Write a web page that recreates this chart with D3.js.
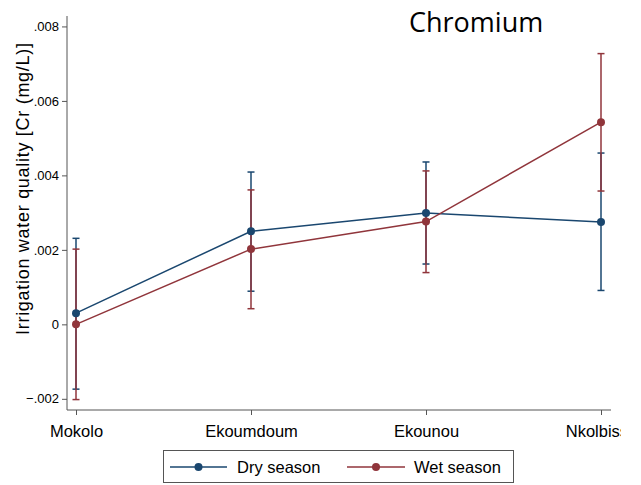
<!DOCTYPE html>
<html><head><meta charset="utf-8">
<script src="https://cdn.jsdelivr.net/npm/d3@7"></script>
<style>body{margin:0;background:#fff}svg{display:block}</style>
</head><body>
<script>
const categories = ["Mokolo", "Ekoumdoum", "Ekounou", "Nkolbisso"];
const dryMean  = [0.00030, 0.00250, 0.00299, 0.00275];
const dryLow   = [-0.00174, 0.00089, 0.00162, 0.00091];
const dryHigh  = [0.00231, 0.00409, 0.00436, 0.00460];
const wetMean  = [0.00000, 0.00202, 0.00276, 0.00543];
const wetLow   = [-0.00202, 0.00042, 0.00139, 0.00358];
const wetHigh  = [0.00202, 0.00361, 0.00412, 0.00727];
const yTicks   = [-0.002, 0, 0.002, 0.004, 0.006, 0.008];
const seriesNames = ["Dry season", "Wet season"];

const W = 641, H = 485;
const svg = d3.select("body").append("svg").attr("width", W).attr("height", H);
svg.append("rect").attr("width", W).attr("height", H).attr("fill", "#fff");
svg.append("defs").append("clipPath").attr("id","cp").append("rect").attr("x",0).attr("y",0).attr("width",621).attr("height",H);
const clipG = svg.append("g").attr("clip-path","url(#cp)");

const x = d3.scalePoint().domain(categories).range([76, 601]);
const y = d3.scaleLinear().domain([-0.0023, 0.00828]).range([410, 16]);
const axisCol = "#555";
const fmt = v => v === 0 ? "0" : d3.format(".3f")(v).replace("0.", ".");

// y axis
const ya = clipG.append("g").attr("transform", "translate(67,0)")
  .call(d3.axisLeft(y).tickValues(yTicks).tickSize(5).tickPadding(3).tickFormat(fmt).tickSizeOuter(0));
ya.select(".domain").attr("stroke", axisCol).attr("d", "M0,16V410");
ya.selectAll(".tick line").attr("stroke", axisCol);
ya.selectAll("text").attr("font-family", "Liberation Sans, Arial, sans-serif").attr("font-size", 13).attr("fill", "#000");

// x axis
const xa = clipG.append("g").attr("transform", "translate(0,410)")
  .call(d3.axisBottom(x).tickSize(5).tickPadding(10).tickSizeOuter(0));
xa.select(".domain").attr("stroke", axisCol).attr("d", "M67,0H611");
xa.selectAll(".tick line").attr("stroke", axisCol);
xa.selectAll("text").attr("font-family", "Liberation Sans, Arial, sans-serif").attr("font-size", 16.5).attr("fill", "#000");

// y title
clipG.append("text").attr("transform", "translate(28.5,189) rotate(-90)")
  .attr("text-anchor", "middle").attr("font-family", "Liberation Sans, Arial, sans-serif")
  .attr("font-size", 18).attr("textLength", 292).attr("lengthAdjust", "spacing")
  .text("Irrigation water quality [Cr (mg/L)]");

// title
clipG.append("text").attr("x", 409).attr("y", 32).attr("font-family", "Open Sans, sans-serif")
  .attr("font-size", 27).text("Chromium");

const series = [
  {name: seriesNames[0], mean: dryMean, lo: dryLow, hi: dryHigh, color: "#1a476f"},
  {name: seriesNames[1], mean: wetMean, lo: wetLow, hi: wetHigh, color: "#90353b"}
];
const line = d3.line().x((d, i) => x(categories[i])).y(d => y(d));
const cap = 3.5;
series.forEach(s => {
  const g = clipG.append("g");
  categories.forEach((c, i) => {
    const cx = x(c);
    g.append("line").attr("x1", cx).attr("x2", cx).attr("y1", y(s.lo[i])).attr("y2", y(s.hi[i]))
      .attr("stroke", s.color).attr("stroke-width", 1.5);
    [s.lo[i], s.hi[i]].forEach(v => g.append("line").attr("x1", cx - cap).attr("x2", cx + cap)
      .attr("y1", y(v)).attr("y2", y(v)).attr("stroke", s.color).attr("stroke-width", 1.5));
  });
});
series.forEach(s => {
  clipG.append("path").attr("d", line(s.mean)).attr("fill", "none").attr("stroke", s.color).attr("stroke-width", 1.5);
  clipG.selectAll(null).data(s.mean).enter().append("circle")
    .attr("cx", (d, i) => x(categories[i])).attr("cy", d => y(d)).attr("r", 4).attr("fill", s.color);
});

// legend
const lg = clipG.append("g");
lg.append("rect").attr("x", 163.5).attr("y", 450.5).attr("width", 350).attr("height", 32)
  .attr("fill", "#fff").attr("stroke", axisCol).attr("stroke-width", 1);
const legPos = [{x1: 170, x2: 227, tx: 237}, {x1: 347, x2: 405, tx: 414}];
series.forEach((s, i) => {
  const p = legPos[i];
  lg.append("line").attr("x1", p.x1).attr("x2", p.x2).attr("y1", 467).attr("y2", 467).attr("stroke", s.color).attr("stroke-width", 1.5);
  lg.append("circle").attr("cx", (p.x1 + p.x2) / 2).attr("cy", 467).attr("r", 4).attr("fill", s.color);
  lg.append("text").attr("x", p.tx).attr("y", 473).attr("font-family", "Liberation Sans, Arial, sans-serif")
    .attr("font-size", 16.5).text(s.name);
});
</script>
</body></html>
